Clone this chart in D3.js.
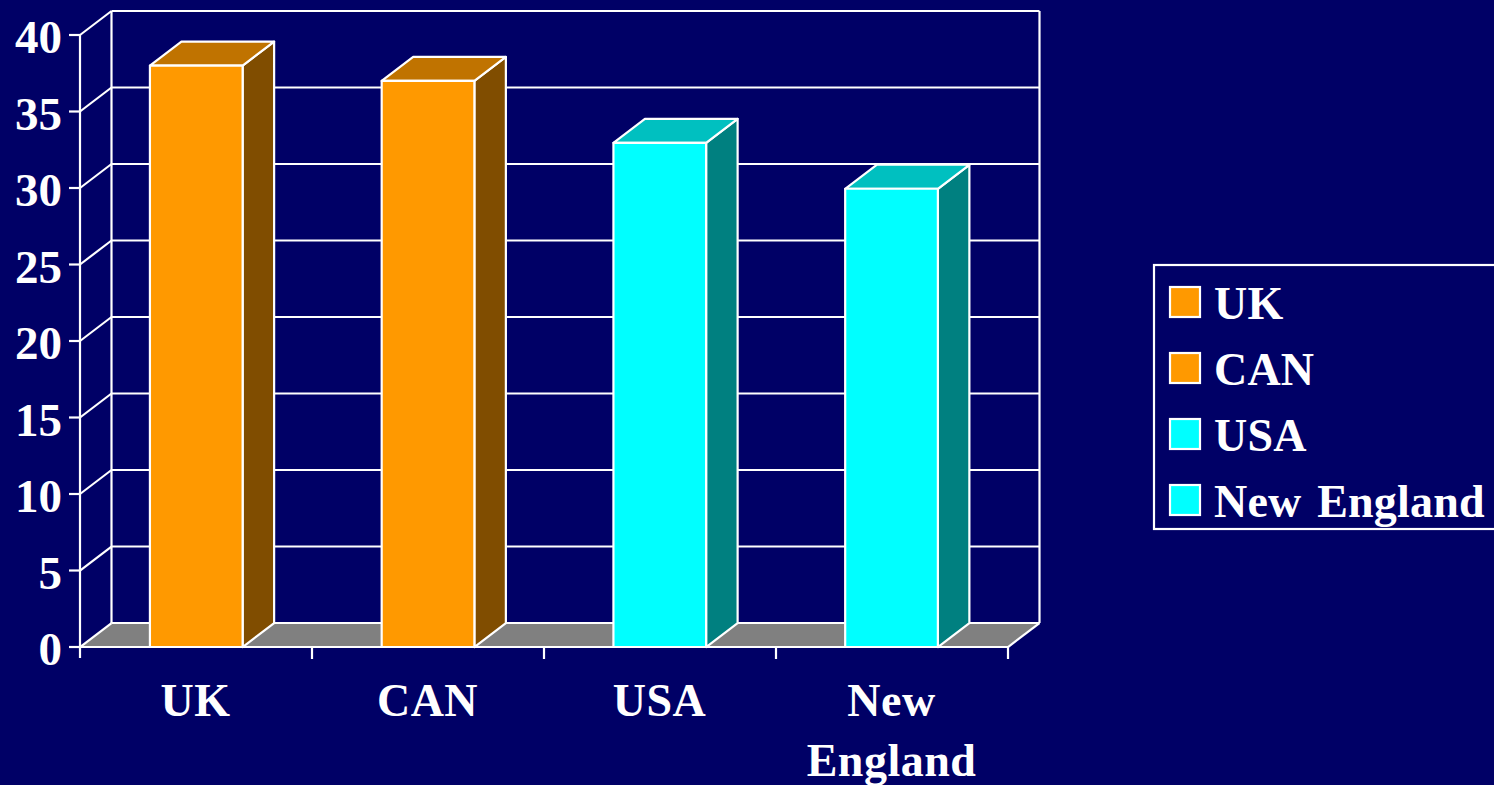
<!DOCTYPE html>
<html><head><meta charset="utf-8">
<script src="https://cdnjs.cloudflare.com/ajax/libs/d3/7.8.5/d3.min.js"></script>
<style>html,body{margin:0;padding:0;background:#000066;overflow:hidden}svg{display:block}
text{font-family:"Liberation Serif",serif;font-weight:bold;fill:#fff}</style></head><body>
<script>
const categories=["UK","CAN","USA","New England"];
const axisLabels=[["UK"],["CAN"],["USA"],["New","England"]];
const values=[38,37,32.95,29.95];
const colors=["#ff9900","#ff9900","#00ffff","#00ffff"];
const sideColors=["#804d00","#804d00","#008080","#008080"];
const topColors=["#c07300","#c07300","#00c0c0","#00c0c0"];
const yTicks=[0,5,10,15,20,25,30,35,40];
const W=1494,H=785,dx=31.5,dy=-24,sw=2.2;
const svg=d3.select("body").append("svg").attr("width",W).attr("height",H);
svg.append("rect").attr("width",W).attr("height",H).attr("fill","#000066");
const y=d3.scaleLinear().domain([0,40]).range([647,35]);
const x=d3.scaleBand().domain(categories).range([80,1008]);
const bx=d3.scaleBand().domain(categories).range([80.4,1007.4]).paddingInner(0.6).paddingOuter(0.3);
const line=(a,b,c,d)=>svg.append("line").attr("x1",a).attr("y1",b).attr("x2",c).attr("y2",d).attr("stroke","#fff").attr("stroke-width",sw);
// floor
svg.append("path").attr("d",`M80,647L${80+dx},${647+dy}H${1008+dx}L1008,647Z`).attr("fill","#808080");
// back wall
yTicks.forEach(t=>{ if(t>0) line(80+dx,y(t)+dy,1008+dx,y(t)+dy);
  line(80,y(t),80+dx,y(t)+dy);});
line(80+dx,y(40)+dy,80+dx,647+dy);
line(1008+dx,y(40)+dy,1008+dx,647+dy);
line(80+dx,647+dy,1008+dx,647+dy);
line(1008,647,1008+dx,647+dy);
// axes
line(80,y(40),80,658);
line(80,647,1008,647);
categories.forEach((c,i)=>line(x(c)+x.bandwidth(),647,x(c)+x.bandwidth(),659));
yTicks.forEach(t=>{line(69,y(t),80,y(t));
  svg.append("text").attr("x",62).attr("y",y(t)+18).attr("text-anchor","end").attr("font-size",47).text(t);});
// bars
categories.forEach((c,i)=>{
  const l=bx(c),r=l+bx.bandwidth(),t=y(values[i]),b=647;
  const g=svg.append("g").attr("stroke","#fff").attr("stroke-width",sw).attr("stroke-linejoin","round");
  g.append("path").attr("d",`M${r},${t}L${r+dx},${t+dy}V${b+dy}L${r},${b}Z`).attr("fill",sideColors[i]);
  g.append("path").attr("d",`M${l},${t}L${l+dx},${t+dy}H${r+dx}L${r},${t}Z`).attr("fill",topColors[i]);
  g.append("rect").attr("x",l).attr("y",t).attr("width",r-l).attr("height",b-t).attr("fill",colors[i]);
});
// category labels
categories.forEach((c,i)=>{
  axisLabels[i].forEach((s,j)=>svg.append("text").attr("x",x(c)+x.bandwidth()/2-0.5).attr("y",716+j*60)
    .attr("text-anchor","middle").attr("font-size",46).attr("letter-spacing",0.5).text(s));
});
// legend
svg.append("rect").attr("x",1154).attr("y",265).attr("width",360).attr("height",264).attr("fill","none").attr("stroke","#fff").attr("stroke-width",sw);
categories.forEach((c,i)=>{
  const ly=302+i*66;
  svg.append("rect").attr("x",1170).attr("y",ly-15).attr("width",30).attr("height",30).attr("fill",colors[i]).attr("stroke","#fff").attr("stroke-width",sw);
  svg.append("text").attr("x",1214).attr("y",ly+17).attr("font-size",46).attr("letter-spacing",0.2).attr("word-spacing",4).text(c);
});
</script></body></html>
